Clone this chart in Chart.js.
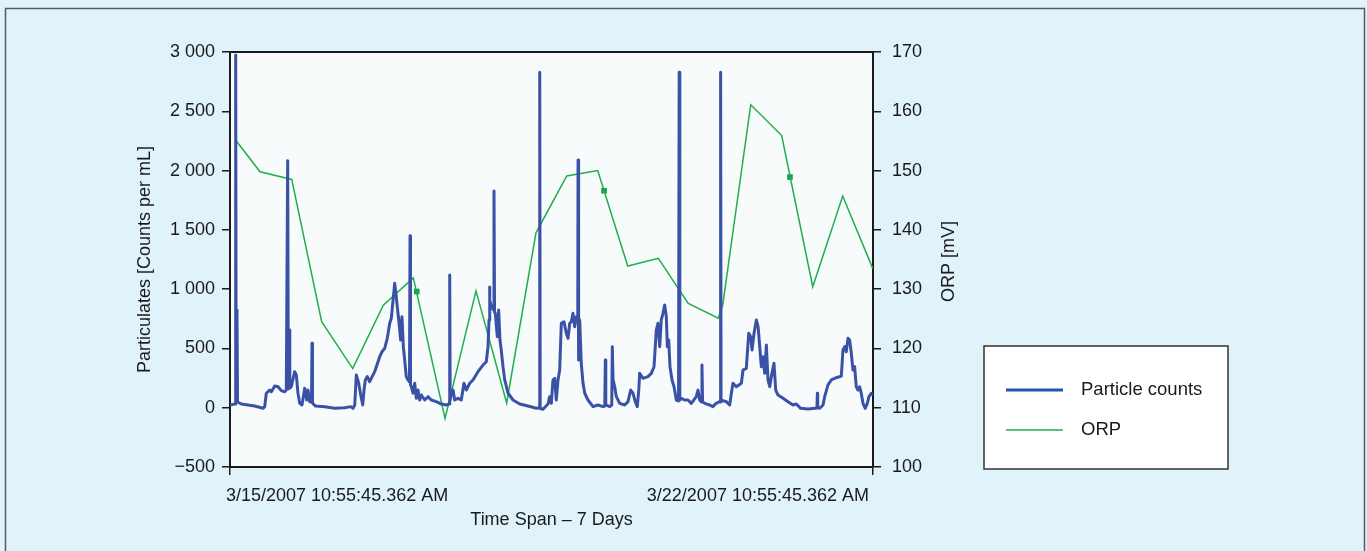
<!DOCTYPE html>
<html>
<head>
<meta charset="utf-8">
<title>Particle counts and ORP</title>
<script src="https://cdn.jsdelivr.net/npm/chart.js@4/dist/chart.umd.min.js"></script>
<style>
  html, body { margin: 0; padding: 0; background: #e0f3fb; }
  #chartBox { width: 1367px; height: 551px; }
</style>
</head>
<body>
<div id="chartBox"><canvas id="mainChart" width="1367" height="551"></canvas></div>
<script>
// time in days from start of the 7 day span
const particleTime = [
  0.000, 0.051, 0.058, 0.062, 0.067, 0.076, 0.082, 0.123, 0.196, 0.269, 0.359, 0.378, 0.395, 0.432, 0.450,
  0.487, 0.523, 0.558, 0.595, 0.613, 0.628, 0.635, 0.646, 0.651, 0.667, 0.704, 0.722, 0.740, 0.759, 0.784,
  0.813, 0.835, 0.849, 0.868, 0.887, 0.893, 0.898, 0.929, 1.031, 1.140, 1.249, 1.314, 1.339, 1.358, 1.375,
  1.401, 1.423, 1.445, 1.459, 1.473, 1.495, 1.521, 1.538, 1.575, 1.630, 1.655, 1.684, 1.712, 1.739, 1.756,
  1.775, 1.793, 1.810, 1.821, 1.837, 1.858, 1.872, 1.887, 1.902, 1.919, 1.938, 1.954, 1.960, 1.965, 1.974,
  1.992, 2.011, 2.028, 2.047, 2.065, 2.083, 2.120, 2.156, 2.191, 2.246, 2.300, 2.355, 2.386, 2.392, 2.397,
  2.409, 2.428, 2.446, 2.482, 2.518, 2.547, 2.572, 2.610, 2.645, 2.700, 2.754, 2.790, 2.809, 2.820, 2.825,
  2.830, 2.845, 2.869, 2.874, 2.880, 2.888, 2.910, 2.925, 2.939, 2.953, 2.972, 2.991, 3.027, 3.081, 3.154,
  3.244, 3.335, 3.366, 3.372, 3.377, 3.407, 3.462, 3.480, 3.498, 3.516, 3.535, 3.552, 3.571, 3.589, 3.607,
  3.636, 3.661, 3.680, 3.698, 3.716, 3.734, 3.753, 3.770, 3.786, 3.789, 3.793, 3.797, 3.807, 3.824, 3.843,
  3.862, 3.897, 3.952, 4.006, 4.060, 4.080, 4.086, 4.091, 4.134, 4.156, 4.162, 4.170, 4.188, 4.206, 4.243,
  4.297, 4.333, 4.362, 4.387, 4.412, 4.434, 4.450, 4.460, 4.496, 4.550, 4.587, 4.616, 4.641, 4.659, 4.678,
  4.695, 4.714, 4.732, 4.750, 4.761, 4.776, 4.790, 4.812, 4.834, 4.859, 4.883, 4.890, 4.897, 4.913, 4.950,
  4.986, 5.022, 5.076, 5.095, 5.113, 5.133, 5.138, 5.145, 5.168, 5.221, 5.257, 5.292, 5.331, 5.337, 5.341,
  5.346, 5.367, 5.403, 5.440, 5.458, 5.476, 5.512, 5.567, 5.585, 5.621, 5.647, 5.669, 5.683, 5.705, 5.730,
  5.749, 5.767, 5.784, 5.803, 5.821, 5.839, 5.857, 5.876, 5.893, 5.922, 5.941, 5.966, 6.021, 6.075, 6.129,
  6.165, 6.213, 6.293, 6.372, 6.390, 6.394, 6.398, 6.420, 6.456, 6.474, 6.510, 6.546, 6.600, 6.655, 6.673,
  6.692, 6.709, 6.728, 6.746, 6.764, 6.782, 6.800, 6.818, 6.836, 6.855, 6.872, 6.891, 6.916, 6.938, 6.956,
  6.981, 7.000
];
const particleCount = [
  23, 31, 31, 2975, 48, 824, 48, 31, 23, 14, -5, 9, 122, 149, 135,
  183, 177, 144, 135, 149, 2083, 158, 655, 166, 177, 304, 276, 122, 37, 23,
  164, 65, 149, 51, 48, 543, 40, 14, 9, -5, 0, 9, -5, 23, 276,
  206, 107, 23, 149, 234, 262, 219, 248, 304, 430, 472, 501, 585, 712, 754,
  908, 1049, 936, 852, 740, 571, 768, 515, 402, 262, 234, 217, 1451, 192, 177,
  122, 206, 79, 149, 65, 107, 65, 93, 65, 51, 31, 23, 31, 1119, 65,
  122, 149, 65, 79, 65, 206, 149, 206, 234, 304, 360, 388, 515, 740, 1018,
  908, 852, 824, 1828, 807, 796, 599, 824, 571, 487, 346, 234, 122, 65, 31,
  14, -5, 0, 2829, -7, -13, 31, 93, 37, 234, 248, 65, 234, 318, 712,
  725, 628, 585, 712, 725, 796, 683, 768, 757, 2089, 571, 402, 740, 375, 206,
  122, 65, 9, 23, 9, 14, 402, 23, 9, 23, 515, 234, 177, 93, 37,
  23, 51, 149, 122, 51, 9, 149, 290, 248, 262, 290, 346, 655, 712, 515,
  740, 796, 866, 768, 515, 571, 346, 234, 177, 65, 57, 2829, 65, 79, 65,
  65, 37, 93, 149, 65, 48, 360, 48, 37, 23, 9, 37, 51, 48, 2829,
  57, 59, 51, 23, 122, 206, 177, 206, 318, 332, 628, 599, 487, 628, 740,
  683, 515, 346, 430, 290, 529, 234, 177, 262, 375, 149, 107, 79, 51, 23,
  31, -5, -11, -5, 0, 122, 0, -5, 23, 93, 192, 234, 253, 267, 487,
  515, 472, 585, 571, 459, 318, 346, 177, 149, 177, 122, 37, -5, 37, 93,
  122, 107
];

const orpTime = [
  0.073, 0.327, 0.672, 0.998, 1.336, 1.669, 1.996, 2.341, 2.678, 3.012, 3.331, 3.666, 4.003,
  4.330, 4.663, 4.989, 5.316, 5.364, 5.669, 6.006, 6.344, 6.670, 6.997
];
const orpValue = [
  154.9, 149.8, 148.5, 124.5, 116.6, 127.3, 131.9, 108.2, 129.7, 110.8, 139.5, 149.1, 150.0,
  133.9, 135.2, 127.6, 125.1, 127.3, 161.1, 155.9, 130.4, 145.7, 133.5
];
// marked ORP samples
const orpMarkTime = [2.033, 4.072, 6.096];
const orpMarkValue = [129.6, 146.6, 148.9];

const xTickLabels = ['3/15/2007 10:55:45.362 AM', '3/22/2007 10:55:45.362 AM'];
const xTickValues = [0, 7];

const BLUE = '#3a52a6';
const GREEN = '#1fae4b';
const INK = '#1a1a1a';

Chart.defaults.font.family = '"Liberation Sans", Arial, Helvetica, sans-serif';
Chart.defaults.font.size = 18;
Chart.defaults.color = INK;

function toPoints(xs, ys) {
  return xs.map((x, i) => ({ x: x, y: ys[i] }));
}

function fmtThousands(v) {
  const s = Math.abs(v).toString().replace(/\B(?=(\d{3})+(?!\d))/g, ' ');
  return v < 0 ? '\u2212' + s : s;
}

// page background, frame and plot area fill
const backdrop = {
  id: 'backdrop',
  beforeDraw(chart) {
    const ctx = chart.ctx;
    const a = chart.chartArea;
    ctx.save();
    ctx.fillStyle = '#e0f3fb';
    ctx.fillRect(0, 0, chart.width, chart.height);
    ctx.strokeStyle = '#5a5a5a';
    ctx.lineWidth = 1.5;
    ctx.strokeRect(5.5, 8.5, 1359, 580);
    ctx.fillStyle = '#f8fbfc';
    ctx.fillRect(a.left, a.top, a.right - a.left, a.bottom - a.top);
    ctx.restore();
  },
  afterDraw(chart) {
    const ctx = chart.ctx;
    const a = chart.chartArea;
    ctx.save();
    // top edge of the plot box
    ctx.strokeStyle = INK;
    ctx.lineWidth = 2;
    ctx.beginPath();
    ctx.moveTo(a.left, a.top);
    ctx.lineTo(a.right, a.top);
    ctx.stroke();

    // right axis title, reads bottom to top
    ctx.fillStyle = INK;
    ctx.font = '18px "Liberation Sans", Arial, sans-serif';
    ctx.textAlign = 'center';
    ctx.textBaseline = 'middle';
    ctx.translate(949, (a.top + a.bottom) / 2 + 2);
    ctx.rotate(-Math.PI / 2);
    ctx.fillText('ORP [mV]', 0, 0);
    ctx.restore();

    // legend box
    ctx.save();
    ctx.fillStyle = '#ffffff';
    ctx.fillRect(984, 346, 244, 123);
    ctx.strokeStyle = '#333';
    ctx.lineWidth = 1.5;
    ctx.strokeRect(984, 346, 244, 123);
    const items = [
      { label: chart.data.datasets[0].label, color: '#1f58a8', width: 3, y: 390 },
      { label: chart.data.datasets[1].label, color: GREEN, width: 1.5, y: 430 }
    ];
    ctx.font = '18.5px "Liberation Sans", Arial, sans-serif';
    ctx.textAlign = 'left';
    ctx.textBaseline = 'middle';
    items.forEach(it => {
      ctx.strokeStyle = it.color;
      ctx.lineWidth = it.width;
      ctx.beginPath();
      ctx.moveTo(1006, it.y);
      ctx.lineTo(1063, it.y);
      ctx.stroke();
      ctx.fillStyle = INK;
      ctx.fillText(it.label, 1081, it.y);
    });
    ctx.restore();
  }
};

const ctx = document.getElementById('mainChart').getContext('2d');
const mainChart = new Chart(ctx, {
  type: 'line',
  data: {
    datasets: [{
      label: 'Particle counts',
      data: toPoints(particleTime, particleCount),
      yAxisID: 'y',
      borderColor: BLUE,
      borderWidth: 3,
      pointRadius: 0,
      tension: 0,
      borderJoinStyle: 'round'
    }, {
      label: 'ORP',
      data: toPoints(orpTime, orpValue),
      yAxisID: 'y1',
      borderColor: GREEN,
      borderWidth: 1.5,
      pointRadius: 0,
      tension: 0
    }, {
      label: 'ORP samples',
      data: toPoints(orpMarkTime, orpMarkValue),
      yAxisID: 'y1',
      showLine: false,
      pointStyle: 'rect',
      pointRadius: 4,
      backgroundColor: '#16a346',
      borderColor: '#16a346',
      borderWidth: 0
    }]
  },
  options: {
    responsive: false,
    animation: false,
    events: [],
    layout: {
      padding: { left: 130, right: 394, top: 52, bottom: 14 }
    },
    plugins: {
      legend: { display: false },
      tooltip: { enabled: false }
    },
    scales: {
      x: {
        type: 'linear',
        position: 'bottom',
        min: 0,
        max: 7,
        afterBuildTicks: (scale) => {
          scale.ticks = xTickValues.map(v => ({ value: v }));
        },
        afterFit: (scale) => { scale.height = 70; },
        ticks: {
          align: 'inner',
          labelOffset: -4,
          padding: 10,
          maxRotation: 0,
          color: INK,
          callback: (v) => xTickLabels[xTickValues.indexOf(v)]
        },
        grid: { drawOnChartArea: false, drawTicks: true, tickLength: 8, color: INK, lineWidth: 1.5 },
        border: { display: true, color: INK, width: 2 },
        title: {
          display: true,
          text: 'Time Span \u2013 7 Days',
          color: INK,
          padding: { top: 0, bottom: 6 }
        }
      },
      y: {
        position: 'left',
        min: -500,
        max: 3000,
        afterFit: (scale) => { scale.width = 100; },
        ticks: {
          stepSize: 500,
          padding: 7,
          color: INK,
          callback: (v) => fmtThousands(v)
        },
        grid: { drawOnChartArea: false, drawTicks: true, tickLength: 8, color: INK, lineWidth: 1.5 },
        border: { display: true, color: INK, width: 2 },
        title: {
          display: true,
          text: 'Particulates [Counts per mL]',
          color: INK,
          padding: { top: 4, bottom: 4 }
        }
      },
      y1: {
        position: 'right',
        min: 100,
        max: 170,
        afterFit: (scale) => { scale.width = 100; },
        ticks: {
          stepSize: 10,
          padding: 11,
          color: INK
        },
        grid: { drawOnChartArea: false, drawTicks: true, tickLength: 8, color: INK, lineWidth: 1.5 },
        border: { display: true, color: INK, width: 2 }
      }
    }
  },
  plugins: [backdrop]
});
</script>
</body>
</html>
